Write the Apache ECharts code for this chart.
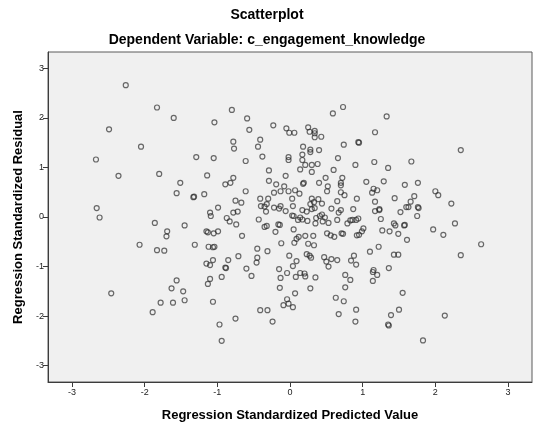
<!DOCTYPE html>
<html>
<head>
<meta charset="utf-8">
<script src="https://cdn.jsdelivr.net/npm/echarts@6/dist/echarts.min.js"></script>
<style>
  html, body { margin: 0; padding: 0; background: #ffffff; }
  #chart { width: 534px; height: 428px; }
</style>
</head>
<body>
<div id="chart"></div>
<script>
// Regression residual diagnostics: standardized predicted value vs standardized residual
const predicted = [
  -2.26,-1.83,-1.60,-1.04,-2.49,-2.05,-2.67,-1.29,-1.05,-0.80,
  -0.59,-0.56,-0.23,0.59,0.73,1.17,-0.78,-0.77,-0.41,-0.44,
  -0.38,-0.61,-0.05,-0.01,0.06,0.25,0.27,0.34,0.34,0.34,
  0.43,0.18,0.28,0.28,0.40,0.17,0.17,-0.02,-0.02,0.74,
  0.94,0.95,0.66,1.16,1.33,2.35,1.67,-2.36,-1.80,-1.14,
  -1.51,-1.56,-1.33,-1.32,-1.18,-2.66,-2.62,-1.10,-1.09,-1.86,
  -1.69,-1.70,-1.45,-1.15,-1.13,-1.05,-2.07,-1.83,-1.73,-1.31,
  -1.12,-1.06,-1.04,-1.15,-1.10,-1.06,0.21,0.30,0.38,0.14,
  0.30,0.90,-0.29,-0.06,0.60,-0.29,-0.78,-0.82,-0.89,-0.99,
  -0.61,-0.19,-0.08,0.18,0.19,0.40,0.49,0.52,0.51,0.70,
  0.70,0.72,0.70,0.75,1.05,1.15,1.20,1.13,0.92,-0.13,
  -0.02,0.07,0.13,0.03,-0.22,-0.41,-0.30,-0.75,-0.67,-0.40,
  -0.35,-0.32,-0.33,-0.22,-0.15,-0.13,-0.06,0.04,0.17,0.30,
  0.33,0.28,0.39,0.44,0.34,0.23,0.30,0.57,0.65,0.70,
  0.67,0.87,1.17,1.17,-0.87,-0.83,-0.78,-0.72,-0.74,-0.99,
  -0.43,-0.32,-0.35,-0.20,-0.16,-0.14,0.05,0.05,0.03,0.14,
  0.17,0.11,0.24,0.36,0.35,0.41,0.44,0.48,0.45,0.53,
  0.65,0.83,0.86,0.91,0.94,0.79,1.01,0.99,0.95,0.92,
  0.71,0.73,0.51,0.56,0.61,0.21,0.32,0.09,0.12,0.06,
  0.25,0.33,-0.12,-0.66,-0.45,-0.31,-0.45,-0.46,-0.71,-0.85,
  -0.89,-0.88,-0.60,-0.01,0.09,0.04,0.23,0.27,0.29,-0.15,
  0.47,0.50,0.53,0.57,0.65,0.84,0.88,0.91,1.10,1.15,
  1.35,1.29,1.58,1.76,1.44,1.71,1.66,1.60,1.63,1.76,
  1.77,1.52,1.23,1.23,1.75,1.25,2.00,2.04,2.22,1.43,
  1.45,1.57,1.58,1.27,1.37,1.49,1.61,1.97,2.11,2.27,
  2.63,1.22,1.43,1.49,2.35,1.36,-2.46,-1.56,-1.63,-1.47,
  -1.78,-1.61,-1.45,-1.89,-1.10,-1.13,-1.06,-0.94,-0.53,-0.13,
  -0.04,0.08,0.14,0.20,0.21,0.35,-0.14,0.07,0.28,-0.04,
  -0.02,-0.09,0.04,-0.41,-0.31,-0.24,-0.75,-0.97,-0.94,0.76,
  0.83,0.76,0.63,0.74,0.67,0.91,0.90,1.14,1.20,1.14,
  1.55,1.50,1.39,1.35,1.36,2.13,1.83
];
const residual = [
  2.66,2.21,2.00,1.91,1.77,1.42,1.16,1.21,1.19,2.16,
  1.99,1.76,1.85,2.09,2.22,1.71,1.52,1.38,1.56,1.42,
  1.22,1.13,1.79,1.70,1.70,1.81,1.72,1.74,1.69,1.61,
  1.62,1.42,1.36,1.31,1.35,1.26,1.15,1.21,1.15,1.46,
  1.51,1.50,1.19,1.11,2.03,1.35,1.12,0.83,0.87,0.84,
  0.69,0.48,0.40,0.41,0.46,0.18,-0.01,0.09,0.02,-0.12,
  -0.29,-0.39,-0.17,-0.29,-0.31,-0.33,-0.56,-0.67,-0.68,-0.56,
  -0.60,-0.61,-0.60,-0.94,-0.97,-0.87,1.05,1.05,1.07,0.96,
  0.91,1.05,0.94,0.83,0.95,0.73,0.79,0.69,0.66,0.19,
  0.52,0.66,0.62,0.67,0.69,0.69,0.79,0.62,0.52,0.69,
  0.64,0.79,0.50,0.44,0.71,0.57,0.54,0.49,0.37,0.52,
  0.52,0.54,0.47,0.37,0.49,0.37,0.37,0.33,0.29,0.22,
  0.21,0.26,0.11,0.19,0.17,0.22,0.12,0.22,0.14,0.37,
  0.30,0.26,0.36,0.27,0.18,0.11,0.16,0.17,0.32,0.14,
  0.09,0.16,0.31,0.12,-0.02,-0.09,0.09,0.11,-0.15,-0.29,
  -0.05,-0.18,-0.20,-0.30,-0.15,-0.16,-0.25,0.02,0.03,-0.01,
  -0.05,-0.06,-0.08,-0.02,-0.13,0.02,0.05,-0.01,-0.09,-0.12,
  -0.06,-0.07,-0.06,-0.06,-0.03,-0.13,-0.23,-0.29,-0.36,-0.37,
  -0.33,-0.34,-0.33,-0.37,-0.40,-0.38,-0.38,-0.44,-0.40,-0.52,
  -0.54,-0.57,-0.53,-0.38,-0.64,-0.69,-0.82,-0.92,-0.79,-0.87,
  -1.02,-1.03,-1.04,-0.78,-0.89,-0.99,-0.75,-0.78,-0.82,-1.05,
  -0.81,-0.90,-1.00,-0.85,-0.87,-0.88,-0.78,-0.96,-0.70,-1.07,
  0.99,0.72,0.65,0.69,0.38,0.42,0.31,0.20,0.20,0.20,
  0.18,0.10,0.14,0.16,0.02,-0.04,0.52,0.44,0.27,-0.13,
  -0.17,-0.17,-0.16,-0.27,-0.29,-0.34,-0.46,-0.25,-0.36,-0.13,
  -0.55,-0.60,-0.76,-0.76,-0.77,-1.03,-1.54,-1.28,-1.44,-1.50,
  -1.73,-1.73,-1.68,-1.92,-1.25,-1.35,-1.71,-1.21,-1.19,-1.23,
  -1.13,-1.21,-1.13,-1.14,-1.20,-1.22,-1.43,-1.54,-1.44,-1.66,
  -1.75,-1.78,-1.82,-1.88,-1.88,-2.11,-2.05,-2.17,-2.50,-1.17,
  -1.27,-1.42,-1.63,-1.70,-1.96,-1.87,-2.11,-1.11,-1.17,-1.29,
  -1.53,-1.87,-1.98,-2.17,-2.19,-1.99,-2.49
];
const xTicks = [-3, -2, -1, 0, 1, 2, 3];
const yTicks = [-3, -2, -1, 0, 1, 2, 3];
const axisMin = -3.33;
const axisMax = 3.33;

const points = predicted.map((x, i) => [x, residual[i]]);

const font = 'Arial, "Liberation Sans", sans-serif';
const chart = echarts.init(document.getElementById('chart'), null, { renderer: 'canvas' });

function valueAxis(ticks, name, isX) {
  return {
    type: 'value',
    min: axisMin,
    max: axisMax,
    name: name,
    nameLocation: 'middle',
    nameGap: isX ? 27 : 23,
    nameTextStyle: { fontFamily: font, fontSize: 13, fontWeight: 'bold', color: '#000' },
    axisLine: { show: true, onZero: false, lineStyle: { color: '#3c3c3c', width: 1 } },
    axisTick: { show: true, length: 5, inside: false, customValues: ticks, lineStyle: { color: '#3c3c3c' } },
    axisLabel: { customValues: ticks, fontFamily: font, fontSize: 9, color: '#222', margin: isX ? 6 : 4,
      formatter: v => String(Math.round(v)) },
    splitLine: { show: false }
  };
}

chart.setOption({
  animation: false,
  backgroundColor: '#ffffff',
  title: [
    { text: 'Scatterplot', left: 'center', top: 3,
      textStyle: { fontFamily: font, fontSize: 14, fontWeight: 'bold', color: '#000' } },
    { text: 'Dependent Variable: c_engagement_knowledge', left: 'center', top: 28,
      textStyle: { fontFamily: font, fontSize: 14, fontWeight: 'bold', color: '#000' } }
  ],
  grid: {
    left: 48, right: 2, top: 52, bottom: 46,
    show: true, backgroundColor: '#f0f0f0', borderColor: '#5a5a5a', borderWidth: 1
  },
  xAxis: valueAxis(xTicks, 'Regression Standardized Predicted Value', true),
  yAxis: valueAxis(yTicks, 'Regression Standardized Residual', false),
  series: [{
    type: 'scatter',
    data: points,
    symbol: 'circle',
    symbolSize: 5,
    itemStyle: { color: 'rgba(0,0,0,0)', borderColor: 'rgba(40,40,40,0.85)', borderWidth: 1.2 }
  }]
});
</script>
</body>
</html>
